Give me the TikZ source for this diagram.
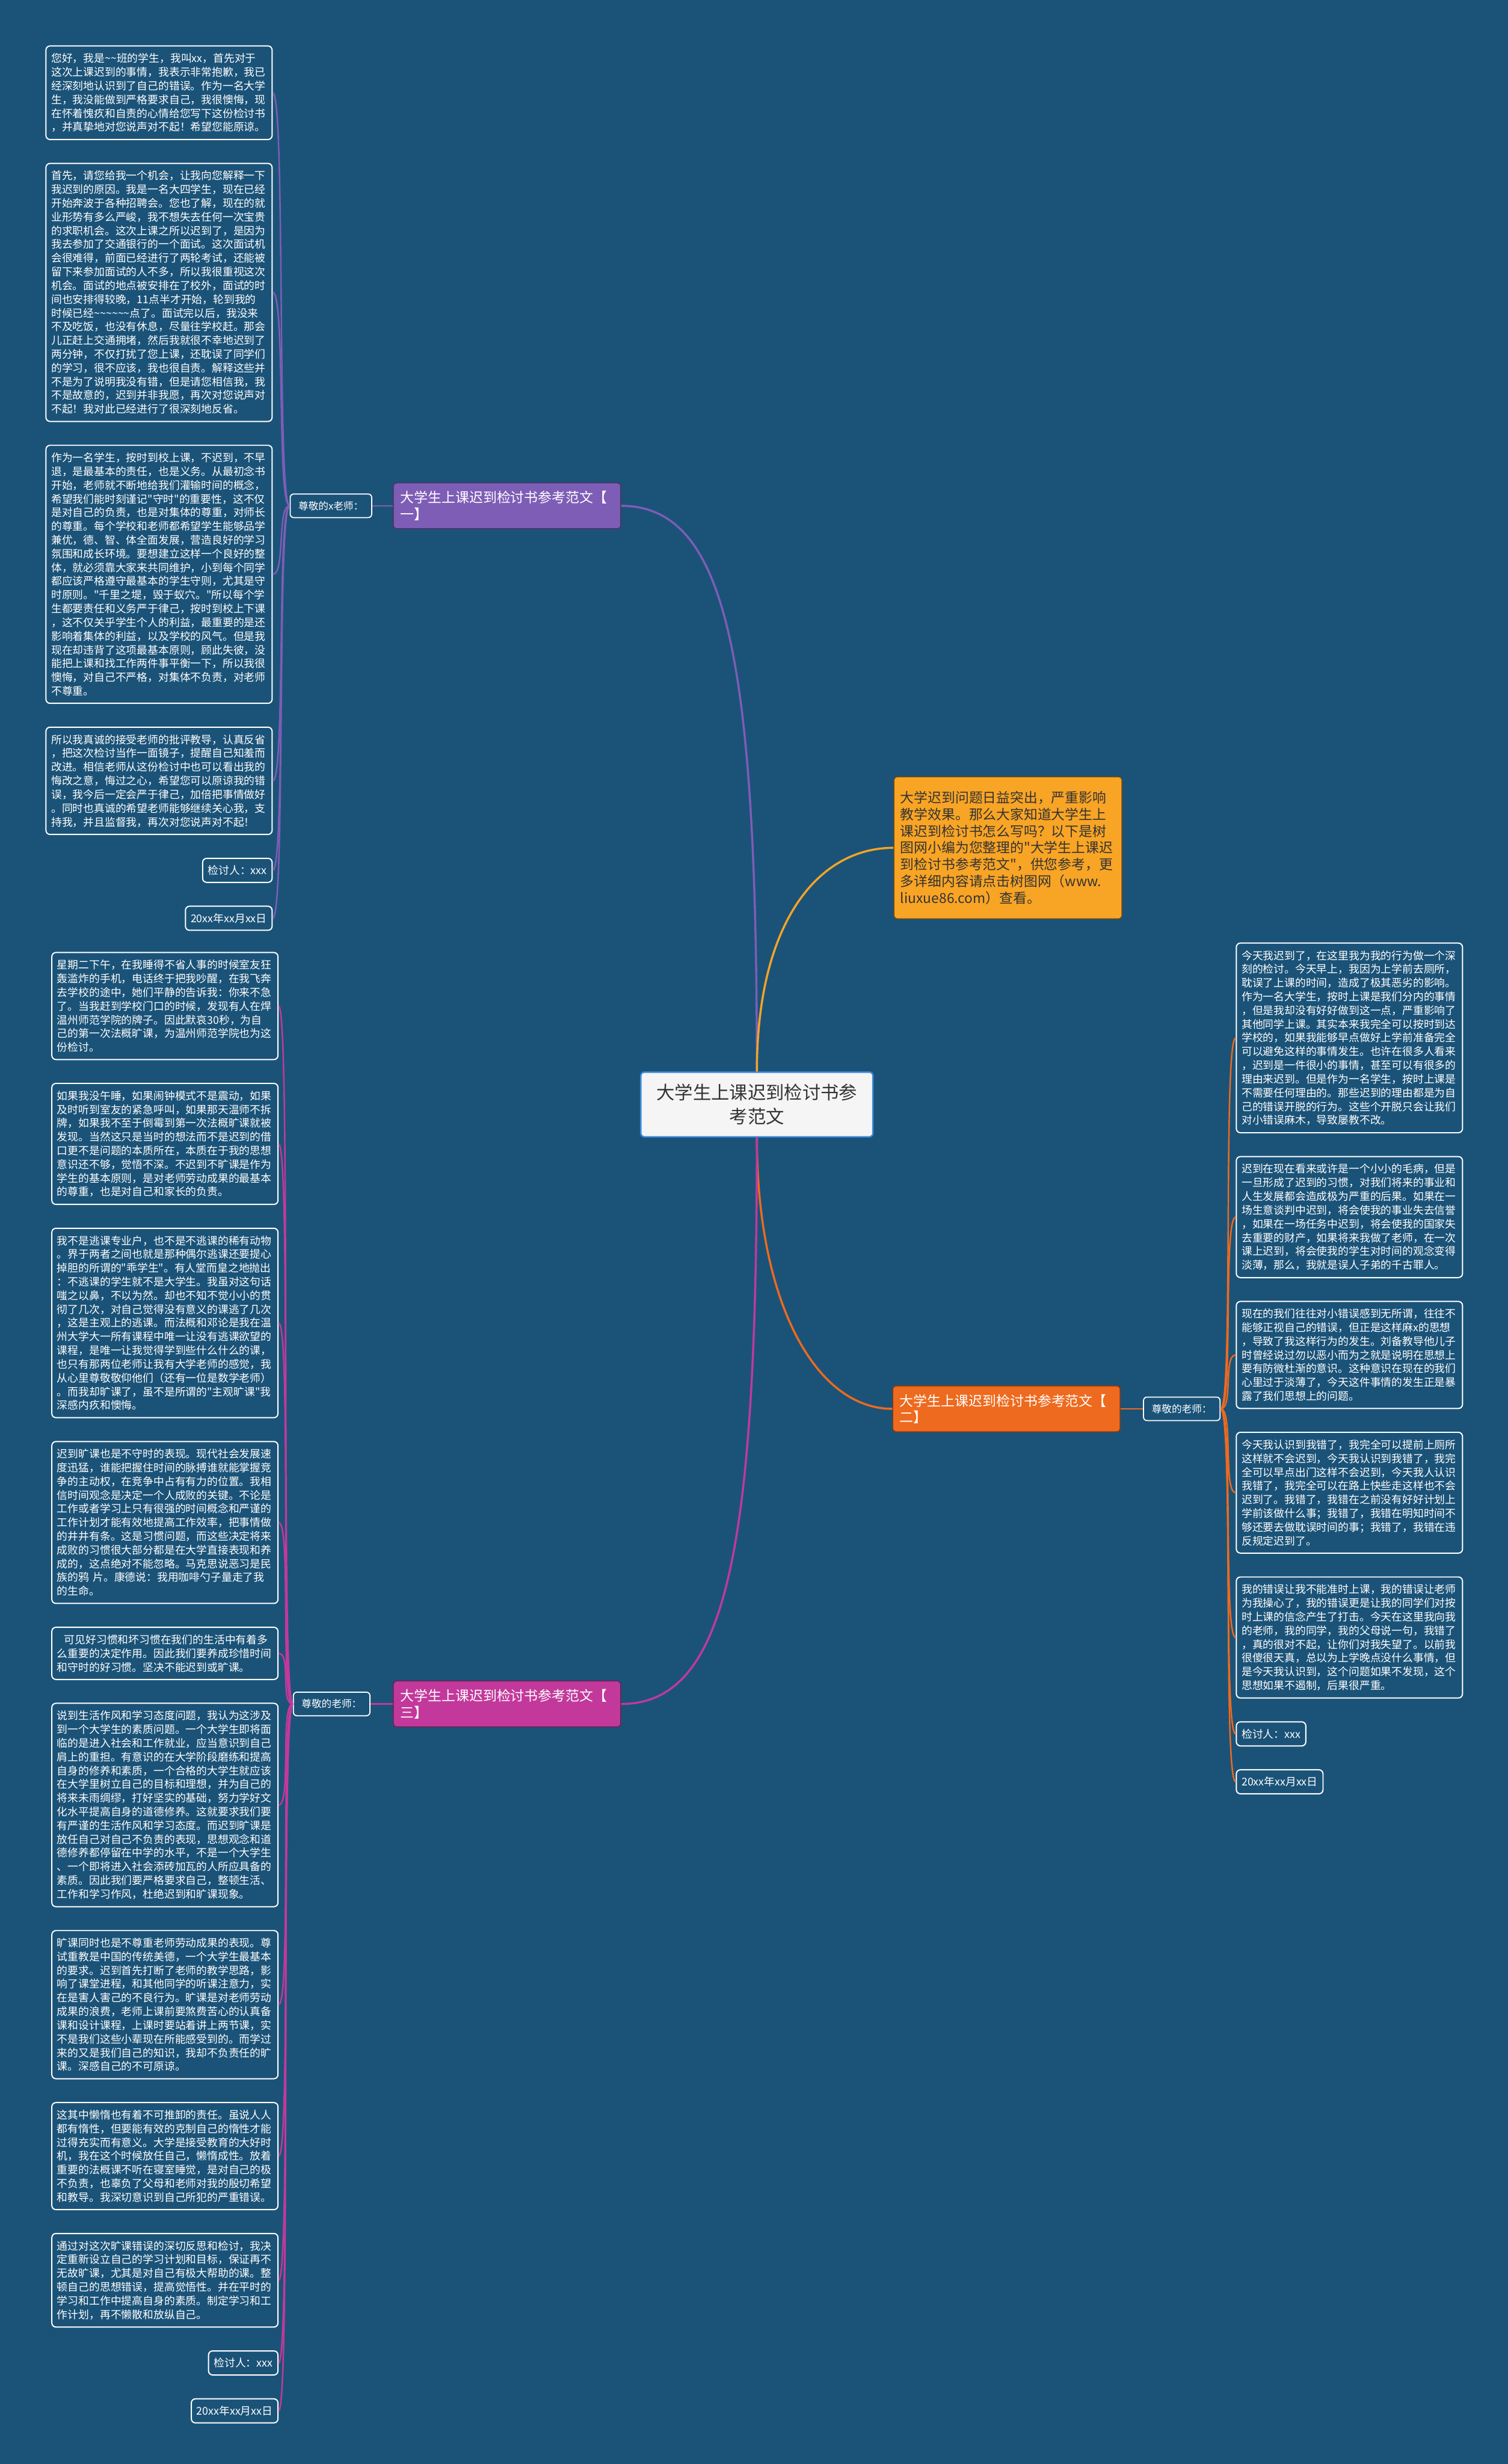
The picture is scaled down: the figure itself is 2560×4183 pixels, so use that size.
\documentclass[tikz,border=0pt]{standalone}
\usepackage{fontspec}
\newfontfamily\cjk{Noto Sans CJK SC}
\usepackage{tikz}
\usetikzlibrary{positioning}
\definecolor{bg}{HTML}{1B5378}
\definecolor{purp}{HTML}{7E5DB6}
\definecolor{mage}{HTML}{C2399B}
\definecolor{oran}{HTML}{EE6A1E}
\definecolor{gold}{HTML}{F8A425}
\definecolor{hubline}{HTML}{3D8BDB}

\begin{document}
\begin{tikzpicture}[
        x = 1pt, y = -1pt,
        card/.style = {
            draw = white,
            line width = 2pt,
            rounded corners = 7pt,
            fill = bg,
            text = white,
            font = \cjk\fontsize{18.2}{23.3}\selectfont,
            inner xsep = 9pt,
            inner ysep = 12.5pt
        },
        leaf/.style = {card, align = left, text width = 366pt},
        sign/.style = {card, inner ysep = 12pt},
        greet/.style = {
            card,
            line width = 1.8pt,
            rounded corners = 6pt,
            font = \cjk\fontsize{17}{20}\selectfont,
            inner xsep = 14pt,
            inner ysep = 0pt,
            minimum height = 40pt
        },
        branch/.style = {
            draw = #1!55!black,
            fill = #1,
            line width = 1.5pt,
            rounded corners = 6pt,
            text = white,
            font = \cjk\fontsize{23.4}{28}\selectfont,
            align = left,
            text width = 362pt,
            inner xsep = 12pt,
            inner ysep = 14pt
        },
        hub/.style = {
            draw = hubline,
            fill = black!4,
            line width = 2.5pt,
            rounded corners = 6pt,
            text = black!80,
            font = \cjk\fontsize{31}{41}\selectfont,
            align = center,
            text width = 344pt,
            inner xsep = 25pt,
            inner ysep = 20pt
        },
        intro/.style = {
            draw = gold!45!black,
            fill = gold,
            line width = 1.5pt,
            rounded corners = 6pt,
            text = black!80,
            font = \cjk\fontsize{23.3}{28.5}\selectfont,
            align = left,
            text width = 365pt,
            inner xsep = 11pt,
            inner ysep = 24pt
        },
        bough/.style = {draw = #1, line width = 3.5pt},
        twig/.style = {draw = #1, line width = 2.5pt},
        node distance = {38.5pt}
    ]
    \fill[bg] (0,0) rectangle (2560,4183);
    \useasboundingbox (0,0) rectangle (2560,4183);

    \node[hub] (hub) at (1285,1875) {大学生上课迟到检讨书参\\考范文};
    \node[intro, anchor=north west] (intro) at (1517,1318) {大学迟到问题日益突出，严重影响\\教学效果。那么大家知道大学生上\\课迟到检讨书怎么写吗？以下是树\\图网小编为您整理的"大学生上课迟\\到检讨书参考范文"，供您参考，更\\多详细内容请点击树图网（www.\\liuxue86.com）查看。};

    \node[branch=purp, anchor=north west] (b1) at (667,819) {大学生上课迟到检讨书参考范文【\\一】};
    \node[branch=oran, anchor=north west] (b2) at (1515,2352) {大学生上课迟到检讨书参考范文【\\二】};
    \node[branch=mage, anchor=north west] (b3) at (667,2853) {大学生上课迟到检讨书参考范文【\\三】};
    \node[greet, left=35pt of b1] (g1) {尊敬的x老师：};
    \node[greet, right=38pt of b2] (g2) {尊敬的老师：};
    \node[greet, left=38pt of b3] (g3) {尊敬的老师：};

    \node[leaf, anchor=north west] (l1a) at (77,77) {您好，我是\textasciitilde\textasciitilde 班的学生，我叫xx，首先对于\\这次上课迟到的事情，我表示非常抱歉，我已\\经深刻地认识到了自己的错误。作为一名大学\\生，我没能做到严格要求自己，我很懊悔，现\\在怀着愧疚和自责的心情给您写下这份检讨书\\，并真挚地对您说声对不起！希望您能原谅。};
    \node[leaf, below=of l1a] (l1b) {首先，请您给我一个机会，让我向您解释一下\\我迟到的原因。我是一名大四学生，现在已经\\开始奔波于各种招聘会。您也了解，现在的就\\业形势有多么严峻，我不想失去任何一次宝贵\\的求职机会。这次上课之所以迟到了，是因为\\我去参加了交通银行的一个面试。这次面试机\\会很难得，前面已经进行了两轮考试，还能被\\留下来参加面试的人不多，所以我很重视这次\\机会。面试的地点被安排在了校外，面试的时\\间也安排得较晚，11点半才开始，轮到我的\\时候已经\textasciitilde\textasciitilde\textasciitilde\textasciitilde\textasciitilde\textasciitilde 点了。面试完以后，我没来\\不及吃饭，也没有休息，尽量往学校赶。那会\\儿正赶上交通拥堵，然后我就很不幸地迟到了\\两分钟，不仅打扰了您上课，还耽误了同学们\\的学习，很不应该，我也很自责。解释这些并\\不是为了说明我没有错，但是请您相信我，我\\不是故意的，迟到并非我愿，再次对您说声对\\不起！我对此已经进行了很深刻地反省。};
    \node[leaf, below=of l1b] (l1c) {作为一名学生，按时到校上课，不迟到，不早\\退，是最基本的责任，也是义务。从最初念书\\开始，老师就不断地给我们灌输时间的概念，\\希望我们能时刻谨记"守时"的重要性，这不仅\\是对自己的负责，也是对集体的尊重，对师长\\的尊重。每个学校和老师都希望学生能够品学\\兼优，德、智、体全面发展，营造良好的学习\\氛围和成长环境。要想建立这样一个良好的整\\体，就必须靠大家来共同维护，小到每个同学\\都应该严格遵守最基本的学生守则，尤其是守\\时原则。"千里之堤，毁于蚁穴。"所以每个学\\生都要责任和义务严于律己，按时到校上下课\\，这不仅关乎学生个人的利益，最重要的是还\\影响着集体的利益，以及学校的风气。但是我\\现在却违背了这项最基本原则，顾此失彼，没\\能把上课和找工作两件事平衡一下，所以我很\\懊悔，对自己不严格，对集体不负责，对老师\\不尊重。};
    \node[leaf, below=of l1c] (l1d) {所以我真诚的接受老师的批评教导，认真反省\\，把这次检讨当作一面镜子，提醒自己知羞而\\改进。相信老师从这份检讨中也可以看出我的\\悔改之意，悔过之心，希望您可以原谅我的错\\误，我今后一定会严于律己，加倍把事情做好\\。同时也真诚的希望老师能够继续关心我，支\\持我，并且监督我，再次对您说声对不起！};
    \node[sign, below=of l1d.south east, anchor=north east] (l1s) {检讨人：xxx};
    \node[sign, below=of l1s.south east, anchor=north east] (l1t) {20xx年xx月xx日};

    \node[leaf, anchor=north west] (r2a) at (2098,1600) {今天我迟到了，在这里我为我的行为做一个深\\刻的检讨。今天早上，我因为上学前去厕所，\\耽误了上课的时间，造成了极其恶劣的影响。\\作为一名大学生，按时上课是我们分内的事情\\，但是我却没有好好做到这一点，严重影响了\\其他同学上课。其实本来我完全可以按时到达\\学校的，如果我能够早点做好上学前准备完全\\可以避免这样的事情发生。也许在很多人看来\\，迟到是一件很小的事情，甚至可以有很多的\\理由来迟到。但是作为一名学生，按时上课是\\不需要任何理由的。那些迟到的理由都是为自\\己的错误开脱的行为。这些个开脱只会让我们\\对小错误麻木，导致屡教不改。};
    \node[leaf, below=of r2a] (r2b) {迟到在现在看来或许是一个小小的毛病，但是\\一旦形成了迟到的习惯，对我们将来的事业和\\人生发展都会造成极为严重的后果。如果在一\\场生意谈判中迟到，将会使我的事业失去信誉\\，如果在一场任务中迟到，将会使我的国家失\\去重要的财产，如果将来我做了老师，在一次\\课上迟到，将会使我的学生对时间的观念变得\\淡薄，那么，我就是误人子弟的千古罪人。};
    \node[leaf, below=of r2b] (r2c) {现在的我们往往对小错误感到无所谓，往往不\\能够正视自己的错误，但正是这样麻x的思想\\，导致了我这样行为的发生。刘备教导他儿子\\时曾经说过勿以恶小而为之就是说明在思想上\\要有防微杜渐的意识。这种意识在现在的我们\\心里过于淡薄了，今天这件事情的发生正是暴\\露了我们思想上的问题。};
    \node[leaf, below=of r2c] (r2d) {今天我认识到我错了，我完全可以提前上厕所\\这样就不会迟到，今天我认识到我错了，我完\\全可以早点出门这样不会迟到，今天我人认识\\我错了，我完全可以在路上快些走这样也不会\\迟到了。我错了，我错在之前没有好好计划上\\学前该做什么事；我错了，我错在明知时间不\\够还要去做耽误时间的事；我错了，我错在违\\反规定迟到了。};
    \node[leaf, below=of r2d] (r2e) {我的错误让我不能准时上课，我的错误让老师\\为我操心了，我的错误更是让我的同学们对按\\时上课的信念产生了打击。今天在这里我向我\\的老师，我的同学，我的父母说一句，我错了\\，真的很对不起，让你们对我失望了。以前我\\很傻很天真，总以为上学晚点没什么事情，但\\是今天我认识到，这个问题如果不发现，这个\\思想如果不遏制，后果很严重。};
    \node[sign, below=of r2e.south west, anchor=north west] (r2s) {检讨人：xxx};
    \node[sign, below=of r2s.south west, anchor=north west] (r2t) {20xx年xx月xx日};

    \node[leaf, anchor=north west] (l3a) at (87,1616) {星期二下午，在我睡得不省人事的时候室友狂\\轰滥炸的手机，电话终于把我吵醒，在我飞奔\\去学校的途中，她们平静的告诉我：你来不急\\了。当我赶到学校门口的时候，发现有人在焊\\温州师范学院的牌子。因此默哀30秒，为自\\己的第一次法概旷课，为温州师范学院也为这\\份检讨。};
    \node[leaf, below=of l3a] (l3b) {如果我没午睡，如果闹钟模式不是震动，如果\\及时听到室友的紧急呼叫，如果那天温师不拆\\牌，如果我不至于倒霉到第一次法概旷课就被\\发现。当然这只是当时的想法而不是迟到的借\\口更不是问题的本质所在，本质在于我的思想\\意识还不够，觉悟不深。不迟到不旷课是作为\\学生的基本原则，是对老师劳动成果的最基本\\的尊重，也是对自己和家长的负责。};
    \node[leaf, below=of l3b] (l3c) {我不是逃课专业户，也不是不逃课的稀有动物\\。界于两者之间也就是那种偶尔逃课还要提心\\掉胆的所谓的"乖学生"。有人堂而皇之地抛出\\：不逃课的学生就不是大学生。我虽对这句话\\嗤之以鼻，不以为然。却也不知不觉小小的贯\\彻了几次，对自己觉得没有意义的课逃了几次\\，这是主观上的逃课。而法概和邓论是我在温\\州大学大一所有课程中唯一让没有逃课欲望的\\课程，是唯一让我觉得学到些什么什么的课，\\也只有那两位老师让我有大学老师的感觉，我\\从心里尊敬敬仰他们（还有一位是数学老师）\\。而我却旷课了，虽不是所谓的"主观旷课"我\\深感内疚和懊悔。};
    \node[leaf, below=of l3c] (l3d) {迟到旷课也是不守时的表现。现代社会发展速\\度迅猛，谁能把握住时间的脉搏谁就能掌握竞\\争的主动权，在竞争中占有有力的位置。我相\\信时间观念是决定一个人成败的关键。不论是\\工作或者学习上只有很强的时间概念和严谨的\\工作计划才能有效地提高工作效率，把事情做\\的井井有条。这是习惯问题，而这些决定将来\\成败的习惯很大部分都是在大学直接表现和养\\成的，这点绝对不能忽略。马克思说恶习是民\\族的鸦 片。康德说：我用咖啡勺子量走了我\\的生命。};
    \node[leaf, below=of l3d] (l3e) {\hspace*{12pt}可见好习惯和坏习惯在我们的生活中有着多\\么重要的决定作用。因此我们要养成珍惜时间\\和守时的好习惯。坚决不能迟到或旷课。};
    \node[leaf, below=of l3e] (l3f) {说到生活作风和学习态度问题，我认为这涉及\\到一个大学生的素质问题。一个大学生即将面\\临的是进入社会和工作就业，应当意识到自己\\肩上的重担。有意识的在大学阶段磨练和提高\\自身的修养和素质，一个合格的大学生就应该\\在大学里树立自己的目标和理想，并为自己的\\将来未雨绸缪，打好坚实的基础，努力学好文\\化水平提高自身的道德修养。这就要求我们要\\有严谨的生活作风和学习态度。而迟到旷课是\\放任自己对自己不负责的表现，思想观念和道\\德修养都停留在中学的水平，不是一个大学生\\、一个即将进入社会添砖加瓦的人所应具备的\\素质。因此我们要严格要求自己，整顿生活、\\工作和学习作风，杜绝迟到和旷课现象。};
    \node[leaf, below=of l3f] (l3g) {旷课同时也是不尊重老师劳动成果的表现。尊\\试重教是中国的传统美德，一个大学生最基本\\的要求。迟到首先打断了老师的教学思路，影\\响了课堂进程，和其他同学的听课注意力，实\\在是害人害己的不良行为。旷课是对老师劳动\\成果的浪费，老师上课前要煞费苦心的认真备\\课和设计课程，上课时要站着讲上两节课，实\\不是我们这些小辈现在所能感受到的。而学过\\来的又是我们自己的知识，我却不负责任的旷\\课。深感自己的不可原谅。};
    \node[leaf, below=of l3g] (l3h) {这其中懒惰也有着不可推卸的责任。虽说人人\\都有惰性，但要能有效的克制自己的惰性才能\\过得充实而有意义。大学是接受教育的大好时\\机，我在这个时候放任自己，懒惰成性。放着\\重要的法概课不听在寝室睡觉，是对自己的极\\不负责，也辜负了父母和老师对我的殷切希望\\和教导。我深切意识到自己所犯的严重错误。};
    \node[leaf, below=of l3h] (l3i) {通过对这次旷课错误的深切反思和检讨，我决\\定重新设立自己的学习计划和目标，保证再不\\无故旷课，尤其是对自己有极大帮助的课。整\\顿自己的思想错误，提高觉悟性。并在平时的\\学习和工作中提高自身的素质。制定学习和工\\作计划，再不懒散和放纵自己。};
    \node[sign, below=of l3i.south east, anchor=north east] (l3s) {检讨人：xxx};
    \node[sign, below=of l3s.south east, anchor=north east] (l3t) {20xx年xx月xx日};

    \draw[bough=purp] (hub.north) .. controls +(0,-700) and +(180,0) .. (b1.east);
    \draw[bough=gold] (hub.north) .. controls +(0,-250) and +(-130,0) .. (intro.west);
    \draw[bough=oran] (hub.south) .. controls +(0,280) and +(-130,0) .. (b2.west);
    \draw[bough=mage] (hub.south) .. controls +(0,700) and +(180,0) .. (b3.east);
    \draw[twig=purp] (b1.west) -- (g1.east);
    \draw[twig=oran] (b2.east) -- (g2.west);
    \draw[twig=mage] (b3.west) -- (g3.east);
    \foreach \n in {l1a,l1b,l1c,l1d,l1s,l1t}
        \draw[twig=purp] (g1.west) .. controls +(-22,0) and +(22,0) .. (\n.east);
    \foreach \n in {r2a,r2b,r2c,r2d,r2e,r2s,r2t}
        \draw[twig=oran] (g2.east) .. controls +(22,0) and +(-22,0) .. (\n.west);
    \foreach \n in {l3a,l3b,l3c,l3d,l3e,l3f,l3g,l3h,l3i,l3s,l3t}
        \draw[twig=mage] (g3.west) .. controls +(-22,0) and +(22,0) .. (\n.east);
\end{tikzpicture}
\end{document}
